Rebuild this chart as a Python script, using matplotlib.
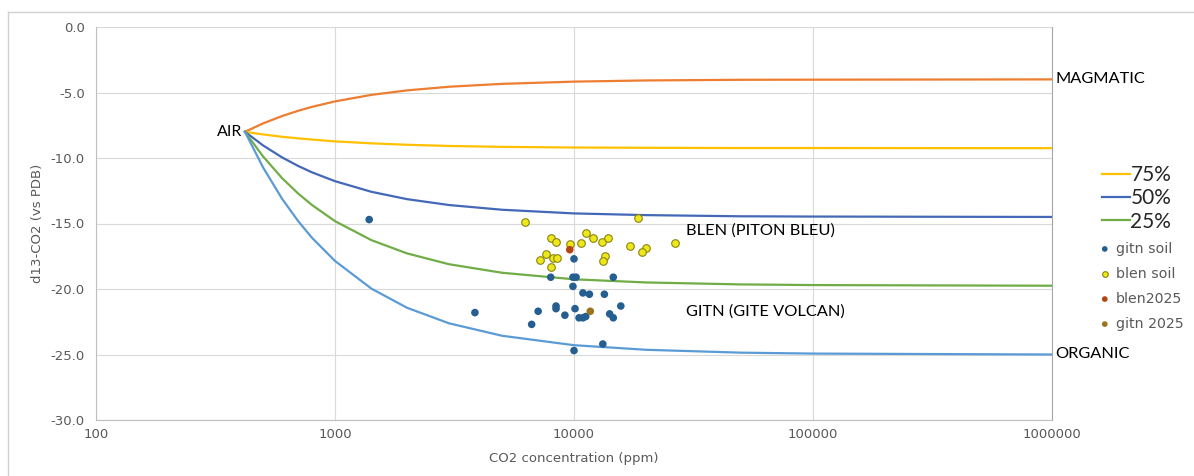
import matplotlib.pyplot as plt
from matplotlib.lines import Line2D

# mixing curves: air (420 ppm, -8) towards each end-member
co2 = [420, 500, 600, 700, 800, 1000, 1420, 2000, 3000, 5000, 10000, 20000, 50000, 100000, 1000000]
magmatic = [-8.0, -7.36, -6.8, -6.4, -6.1, -5.68, -5.18, -4.84, -4.56, -4.34, -4.17, -4.08, -4.03, -4.02, -4.0]
mix75 = [-8.0, -8.2, -8.38, -8.5, -8.59, -8.73, -8.88, -8.99, -9.08, -9.15, -9.2, -9.22, -9.24, -9.24, -9.25]
mix50 = [-8.0, -9.04, -9.95, -10.6, -11.09, -11.77, -12.58, -13.14, -13.59, -13.95, -14.23, -14.36, -14.45, -14.47, -14.5]
mix25 = [-8.0, -9.88, -11.53, -12.7, -13.58, -14.82, -16.27, -17.28, -18.11, -18.76, -19.26, -19.5, -19.65, -19.7, -19.75]
organic = [-8.0, -10.72, -13.1, -14.8, -16.08, -17.86, -19.97, -21.43, -22.62, -23.57, -24.29, -24.64, -24.86, -24.93, -25.0]

# soil gas samples
gitn_x = [10000, 7990, 9900, 10200, 14600, 9900, 10900, 11600, 13400, 7080, 8410, 8410, 10100,
          9160, 10500, 10900, 11200, 14100, 14600, 15700, 6650, 13200, 10000, 3850, 1390]
gitn_y = [-17.7, -19.1, -19.1, -19.1, -19.1, -19.8, -20.3, -20.4, -20.4, -21.7, -21.3, -21.5, -21.5,
          -22.0, -22.2, -22.2, -22.1, -21.9, -22.2, -21.3, -22.7, -24.2, -24.7, -21.8, -14.7]
blen_x = [6250, 18500, 7990, 8410, 9600, 11200, 11960, 10700, 13100, 13900, 17200,
          20100, 19300, 26500, 7650, 7230, 8150, 8500, 7990, 13500, 13250]
blen_y = [-14.9, -14.6, -16.1, -16.4, -16.6, -15.7, -16.1, -16.5, -16.4, -16.1, -16.7,
          -16.9, -17.2, -16.5, -17.3, -17.8, -17.6, -17.6, -18.3, -17.5, -17.9]
blen25_x = [9600]
blen25_y = [-17.0]
gitn25_x = [11700]
gitn25_y = [-21.7]

grey = '#595959'
label_font = ['Lato', 'DejaVu Sans']

fig = plt.figure(figsize=(11.94, 4.76), dpi=100)
ax = fig.add_axes([96 / 1194, 1 - 420 / 476, (1052 - 96) / 1194, (420 - 27) / 476])

# chart frame
fig.add_artist(Line2D([8 / 1194, 8 / 1194], [0, 1 - 12 / 476], color='#D0D0D0', lw=1))
fig.add_artist(Line2D([8 / 1194, 1], [1 - 12 / 476, 1 - 12 / 476], color='#D0D0D0', lw=1))

l_mag, = ax.plot(co2, magmatic, color='#ED7D31', lw=1.6, zorder=3)
l75, = ax.plot(co2, mix75, color='#FFC000', lw=1.6, zorder=3)
l50, = ax.plot(co2, mix50, color='#4468B8', lw=1.6, zorder=3)
l25, = ax.plot(co2, mix25, color='#70AD47', lw=1.6, zorder=3)
l_org, = ax.plot(co2, organic, color='#5B9BD5', lw=1.6, zorder=3)

s_gitn = ax.scatter(gitn_x, gitn_y, s=30, color='#255E91', edgecolors='none', zorder=4)
s_blen = ax.scatter(blen_x, blen_y, s=30, color='#EEE81A', edgecolors='#8A8410', linewidths=0.8, zorder=4)
s_b25 = ax.scatter(blen25_x, blen25_y, s=30, color='#B4470F', edgecolors='none', zorder=5)
s_g25 = ax.scatter(gitn25_x, gitn25_y, s=30, color='#9C7420', edgecolors='none', zorder=5)

ax.set_xscale('log')
ax.set_xlim(100, 1000000)
ax.set_ylim(-30, 0)
ax.set_xticks([100, 1000, 10000, 100000, 1000000])
ax.set_xticklabels(['100', '1000', '10000', '100000', '1000000'])
ax.xaxis.set_minor_locator(plt.NullLocator())
ax.set_yticks([0, -5, -10, -15, -20, -25, -30])
ax.set_yticklabels(['0.0', '-5.0', '-10.0', '-15.0', '-20.0', '-25.0', '-30.0'])
ax.tick_params(length=0, labelsize=9.5, labelcolor=grey)
ax.tick_params(axis='y', pad=8)
ax.tick_params(axis='x', pad=6)
ax.grid(True, color='#D9D9D9', lw=0.8)
ax.set_axisbelow(True)
for side in ['left', 'bottom']:
    ax.spines[side].set_color('#BFBFBF')
ax.spines['top'].set_visible(False)
ax.spines['right'].set_color('#A6A6A6')

ax.set_xlabel('CO2 concentration (ppm)', fontsize=9.5, color=grey, labelpad=8)
ax.set_ylabel('d13-CO2 (vs PDB)', fontsize=9.5, color=grey, labelpad=5)

# annotations
ax.text(410, -8.0, 'AIR', ha='right', va='center', fontsize=11.5, family=label_font)
ax.text(1030000, -4.0, 'MAGMATIC', ha='left', va='center', fontsize=11.8, family=label_font, clip_on=False)
ax.text(1030000, -25.0, 'ORGANIC', ha='left', va='center', fontsize=11.8, family=label_font, clip_on=False)
ax.text(29500, -15.5, 'BLEN (PITON BLEU)', ha='left', va='center', fontsize=11.8, family=label_font)
ax.text(29500, -21.7, 'GITN (GITE VOLCAN)', ha='left', va='center', fontsize=11.8, family=label_font)

# legend: mixing lines then samples
leg1 = fig.legend([l75, l50, l25], ['75%', '50%', '25%'], loc='upper left',
                  bbox_to_anchor=(1094 / 1194, 1 - 157 / 476), frameon=False,
                  handlelength=1.35, handletextpad=0.0, labelspacing=0.15, borderaxespad=0,
                  prop={'family': label_font, 'size': 15})
for t in leg1.get_texts():
    t.set_color('#262626')
leg2 = fig.legend([s_gitn, s_blen, s_b25, s_g25], ['gitn soil', 'blen soil', 'blen2025', 'gitn 2025'],
                  loc='upper left', bbox_to_anchor=(1092 / 1194, 1 - 236 / 476), frameon=False,
                  handlelength=1.0, handletextpad=0.3, labelspacing=0.78, borderaxespad=0,
                  markerscale=0.75, prop={'size': 10.2})
for t in leg2.get_texts():
    t.set_color(grey)

fig.savefig('out.png', dpi=100)
